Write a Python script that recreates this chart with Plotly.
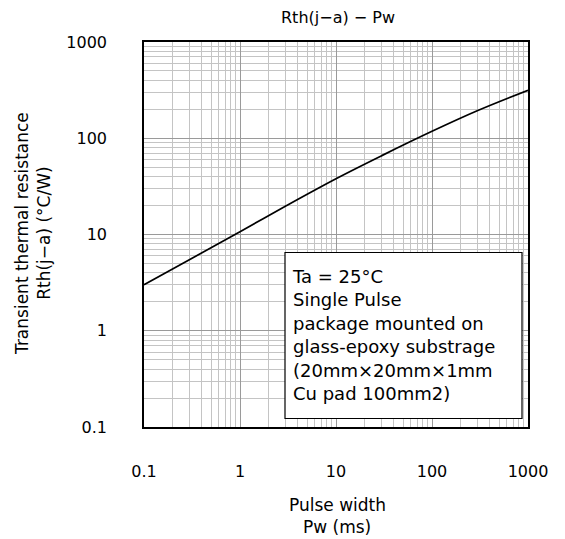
import plotly.graph_objects as go

# Data
pulse_width_ms = [0.1, 0.3, 1, 3, 10, 30, 100, 300, 1000]
rth_ja = [3.0, 5.5, 10.7, 19.8, 38, 66, 118, 194, 315]

tick_vals = [0.1, 1, 10, 100, 1000]
tick_text = ["0.1", "1", "10", "100", "1000"]

box_lines = [
    "Ta = 25°C",
    "Single Pulse",
    "package mounted on",
    "glass-epoxy substrage",
    "(20mm×20mm×1mm",
    "Cu pad 100mm2)",
]

FONT = "DejaVu Sans"

fig = go.Figure()
fig.add_trace(go.Scatter(
    x=pulse_width_ms, y=rth_ja, mode="lines",
    line=dict(color="black", width=1.7, shape="spline", smoothing=1.0),
    showlegend=False, hoverinfo="skip",
))

L, R, T, B = 144, 37, 42, 112
W, H = 565, 539
pw_ = W - L - R
ph_ = H - T - B

def px_x(px):
    return (px - L) / pw_

def px_y(py):
    return (H - B - py) / ph_

axis_common = dict(
    type="log", range=[-1, 3],
    tickvals=tick_vals, ticktext=tick_text,
    showgrid=True, gridcolor="#9a9a9a", gridwidth=1.2,
    minor=dict(dtick="D1", showgrid=True, gridcolor="#c4c4c4", gridwidth=1, ticks=""),
    showline=True, linecolor="black", linewidth=1.5, mirror=True,
    ticks="", zeroline=False,
    tickfont=dict(family=FONT, size=16, color="black"),
)

fig.update_xaxes(**axis_common, ticklabelstandoff=29)
fig.update_yaxes(**axis_common, ticklabelstandoff=32)

# Legend-like box
fig.add_shape(type="rect", xref="paper", yref="paper",
              x0=px_x(285), x1=px_x(522), y0=px_y(418.5), y1=px_y(252.5),
              line=dict(color="black", width=1.2), fillcolor="white", layer="above")

fig.add_annotation(xref="paper", yref="paper", x=px_x(290), y=px_y(335),
                   xanchor="left", yanchor="middle", align="left", showarrow=False,
                   text="<br>".join(box_lines),
                   font=dict(family=FONT, size=18, color="black"))

# Title
fig.add_annotation(xref="paper", yref="paper", x=px_x(338), y=px_y(17),
                   xanchor="center", yanchor="middle", showarrow=False,
                   text="Rth(j−a) − Pw", font=dict(family=FONT, size=16, color="black"))

# X axis title (two lines)
fig.add_annotation(xref="paper", yref="paper", x=px_x(337), y=px_y(505),
                   xanchor="center", yanchor="middle", showarrow=False,
                   text="Pulse width", font=dict(family=FONT, size=17, color="black"))
fig.add_annotation(xref="paper", yref="paper", x=px_x(337), y=px_y(527),
                   xanchor="center", yanchor="middle", showarrow=False,
                   text="Pw (ms)", font=dict(family=FONT, size=17, color="black"))

# Y axis title
fig.add_annotation(xref="paper", yref="paper", x=px_x(33), y=px_y(234),
                   xanchor="center", yanchor="middle", showarrow=False, textangle=-90,
                   text="Transient thermal resistance<br>Rth(j−a) (°C/W)",
                   font=dict(family=FONT, size=17, color="black"))

fig.update_layout(
    width=W, height=H,
    margin=dict(l=L, r=R, t=T, b=B),
    paper_bgcolor="white", plot_bgcolor="white",
    font=dict(family=FONT, color="black"),
)

fig.write_html("out.html")
